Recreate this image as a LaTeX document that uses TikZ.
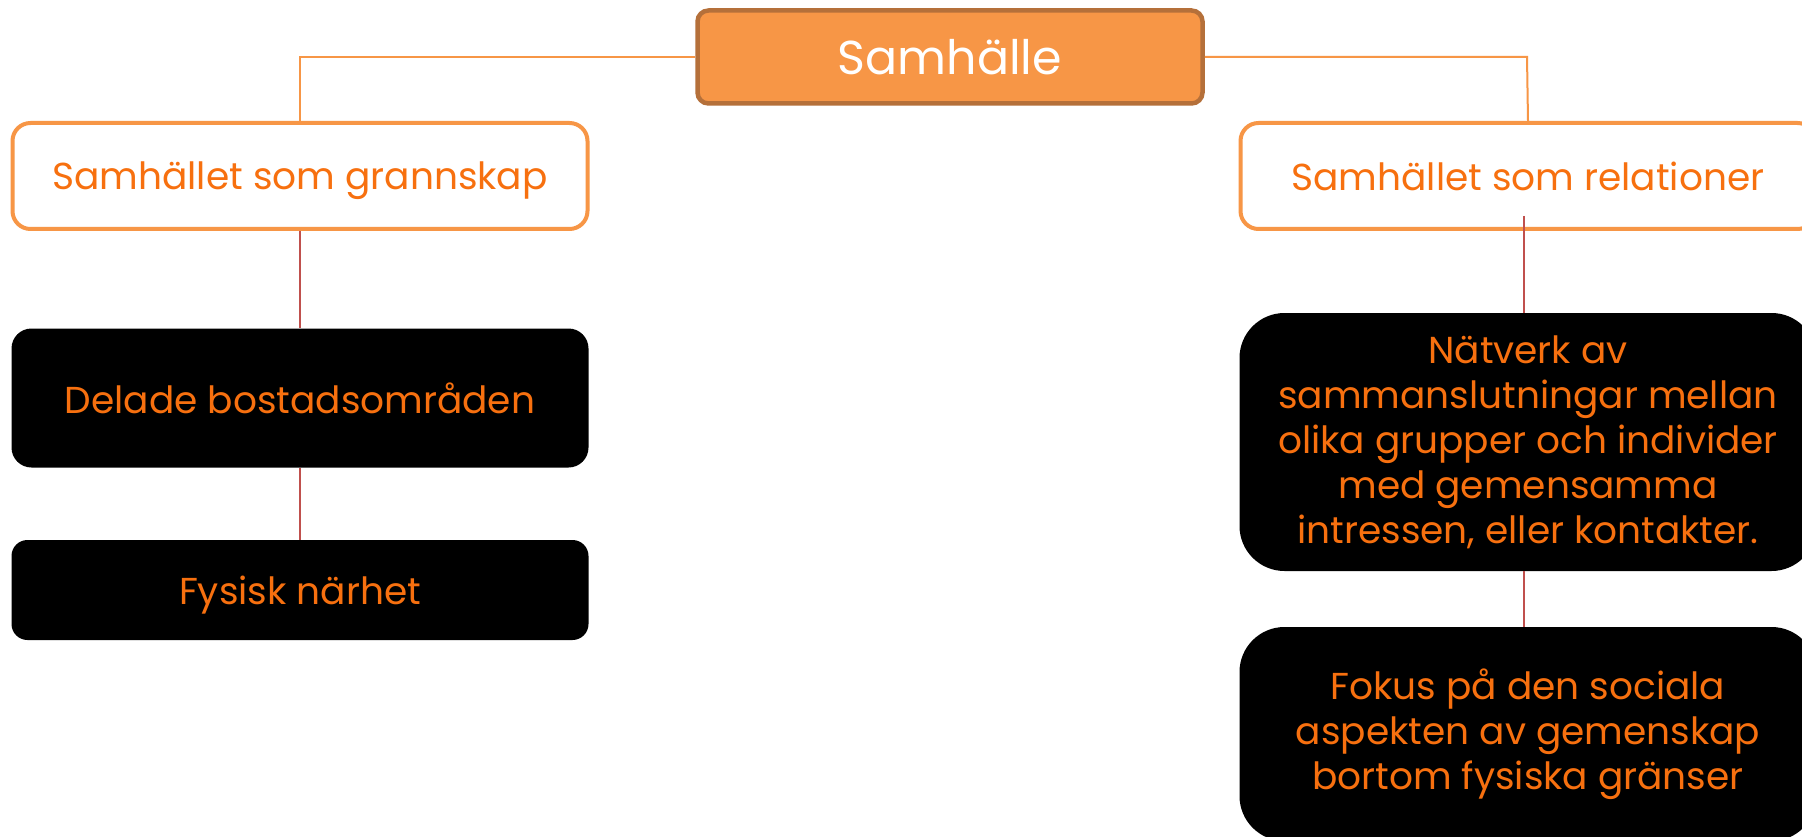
\documentclass[tikz,border=0pt]{standalone}
\usepackage{fontspec}
\setmainfont{Poppins}
\definecolor{topfill}{HTML}{F79646}
\definecolor{topborder}{HTML}{B5703A}
\definecolor{orline}{HTML}{F79646}
\definecolor{txtor}{HTML}{F7700F}
\definecolor{redline}{HTML}{C0504D}
\tikzset{
  topbox/.style={draw=topborder, line width=4.5pt, fill=topfill, rounded corners=11pt,
    minimum width=505pt, minimum height=93pt, text=white, inner sep=0pt,
    font=\fontsize{47.5}{55}\selectfont},
  catbox/.style={draw=orline, line width=4pt, fill=white, rounded corners=18pt,
    minimum width=575pt, minimum height=106pt, text=txtor, inner sep=0pt,
    text depth=0pt, font=\fontsize{37.5}{45}\selectfont},
  blackbox/.style={fill=black, text=txtor, inner sep=0pt, minimum width=577pt,
    align=center, font=\fontsize{37.5}{45}\selectfont},
  orconn/.style={draw=orline, line width=2pt},
  redconn/.style={draw=redline, line width=1.6pt}
}
\begin{document}
\begin{tikzpicture}[x=1pt,y=-1pt]
\useasboundingbox (0,0) rectangle (1802,837);
\fill[white] (0,0) rectangle (1802,837);
\node[topbox] (top) at (950,57) {Samhälle};
\node[catbox] (L1) at (300,176) {Samhället som grannskap};
\node[catbox] (R1) at (1528,176) {Samhället som relationer};
\node[blackbox, rounded corners=20pt, minimum height=139pt] (L2) at (300,398) {Delade bostadsområden};
\node[blackbox, rounded corners=16pt, minimum height=100pt, text depth=0pt] (L3) at (300,590) {Fysisk närhet};
\node[blackbox, rounded corners=45pt, minimum height=258pt] (R2) at (1528,442)
  {Nätverk av\\sammanslutningar mellan\\olika grupper och individer\\med gemensamma\\intressen, eller kontakter.};
\node[blackbox, rounded corners=45pt, minimum height=214pt] (R3) at (1528,734)
  {Fokus på den sociala\\aspekten av gemenskap\\bortom fysiska gränser};
\coordinate (lc) at (300,57);
\coordinate (rc) at (1527,57);
\draw[orconn] (top.west) -- (lc) -- (L1.north);
\draw[orconn] (top.east) -- (rc) -- (R1.north);
\draw[redconn] (L1.south) -- (L2.north);
\draw[redconn] (L2.south) -- (L3.north);
\draw[redconn] ([yshift=15pt,xshift=-4pt]R1.south) -- ([xshift=-4pt]R2.north);
\draw[redconn] ([xshift=-4pt]R2.south) -- ([xshift=-4pt]R3.north);
\end{tikzpicture}
\end{document}
